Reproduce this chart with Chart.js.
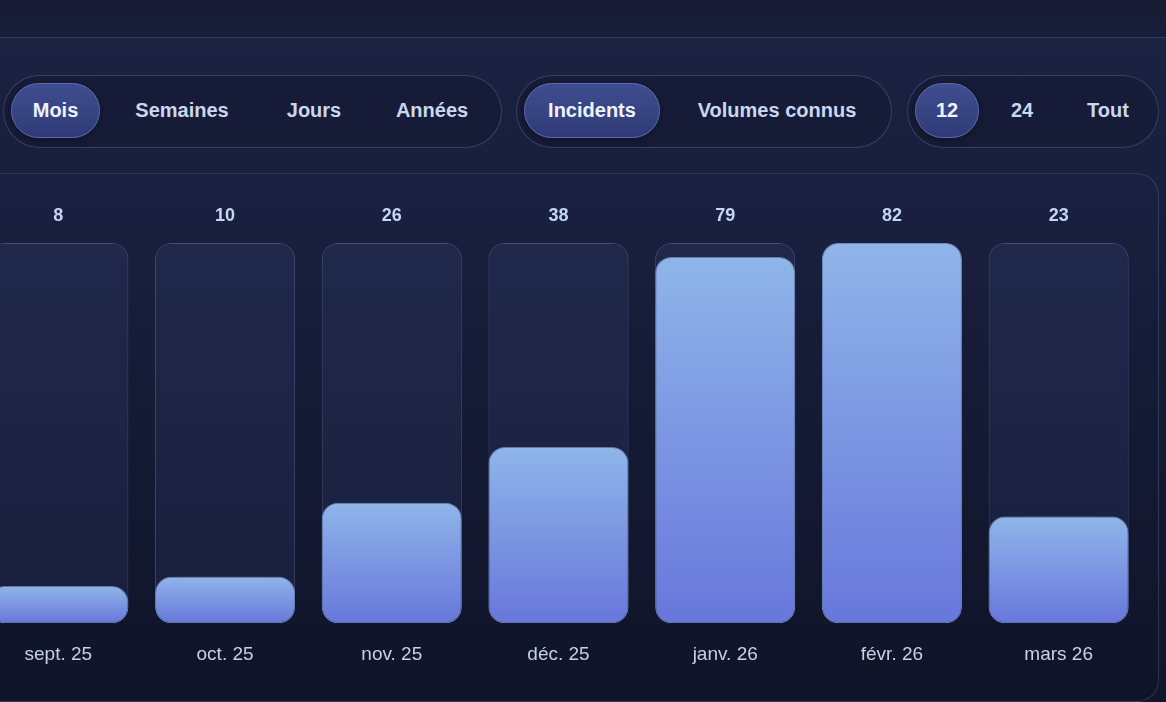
<!DOCTYPE html>
<html lang="fr">
<head>
<meta charset="utf-8">
<title>Incidents par mois</title>
<script src="https://cdn.jsdelivr.net/npm/chart.js@4/dist/chart.umd.min.js"></script>
<style>
  html, body { margin: 0; padding: 0; }
  body {
    width: 1166px; height: 702px; overflow: hidden; position: relative;
    background: #131830;
    font-family: "Liberation Sans", Arial, Helvetica, sans-serif;
  }
  .topbar { position: absolute; left: 0; top: 0; width: 1166px; height: 37px;
    background: linear-gradient(180deg, #161b33, #181e38); }
  .panel { position: absolute; left: -40px; top: 37px; width: 1300px; height: 700px;
    border-top: 1px solid #2e3960;
    background: linear-gradient(180deg, #1b2242 0%, #161c36 40%, #10152a 100%); }
  .group { position: absolute; top: 75px; height: 71px; border-radius: 37px;
    border: 1px solid rgba(120,140,200,0.32);
    background: rgba(20,26,50,0.55); }
  .pill { position: absolute; top: 7px; height: 55px; line-height: 55px;
    font-size: 20px; font-weight: bold; color: #cbd7f1; text-align: center;
    border-radius: 28px; }
  .pill.active { background: linear-gradient(180deg, #3f4e90, #2f3b77);
    border: 1px solid #5b6cb2; color: #eef2ff; line-height: 53px; height: 53px;
    box-shadow: 0 2px 8px rgba(0,0,0,0.3); }
  .card { position: absolute; left: -30px; top: 173px; width: 1187px; height: 527px;
    border: 1px solid rgba(110,130,190,0.3); border-radius: 22px;
    background: linear-gradient(180deg, #1a2040 0%, #141a33 50%, #0f1428 100%); }
  .chart-box { position: absolute; left: -25px; top: 173px; width: 1167px; height: 529px; }
</style>
</head>
<body>
<div class="topbar"></div>
<div class="panel"></div>

<div class="group" style="left:3px; width:497px;">
  <div class="pill active" style="left:7px; width:87px;">Mois</div>
  <div class="pill" style="left:113px; width:130px;">Semaines</div>
  <div class="pill" style="left:265px; width:90px;">Jours</div>
  <div class="pill" style="left:378px; width:100px;">Années</div>
</div>
<div class="group" style="left:516px; width:374px;">
  <div class="pill active" style="left:7px; width:134px;">Incidents</div>
  <div class="pill" style="left:165px; width:190px;">Volumes connus</div>
</div>
<div class="group" style="left:907px; width:250px;">
  <div class="pill active" style="left:7px; width:62px;">12</div>
  <div class="pill" style="left:89px; width:50px;">24</div>
  <div class="pill" style="left:167px; width:66px;">Tout</div>
</div>

<div class="card"></div>
<div class="chart-box"><canvas id="chart"></canvas></div>

<script>
const months = ['sept. 25', 'oct. 25', 'nov. 25', 'déc. 25', 'janv. 26', 'févr. 26', 'mars 26'];
const incidents = [8, 10, 26, 38, 79, 82, 23];
const trackValues = [82, 82, 82, 82, 82, 82, 82];
const yMax = 82;

// gradient per bar, from its top down to the baseline
function barGradient(context) {
  const chart = context.chart;
  const yScale = chart.scales.y;
  if (!chart.chartArea || !yScale) return '#7b95e2';
  const top = yScale.getPixelForValue(context.raw);
  const bottom = yScale.getPixelForValue(0);
  const g = chart.ctx.createLinearGradient(0, top, 0, bottom);
  g.addColorStop(0, '#8fb5e9');
  g.addColorStop(1, '#6877db');
  return g;
}

function trackGradient(context) {
  const chart = context.chart;
  if (!chart.chartArea) return '#1e2546';
  const a = chart.chartArea;
  const g = chart.ctx.createLinearGradient(0, a.top, 0, a.bottom);
  g.addColorStop(0, '#20284b');
  g.addColorStop(1, '#191f3c');
  return g;
}

const glowPlugin = {
  id: 'glow',
  beforeDatasetDraw(chart, args) {
    if (args.index !== 1) return;
    chart.ctx.save();
    chart.ctx.shadowColor = 'rgba(140,170,240,0.4)';
    chart.ctx.shadowBlur = 26;
    chart.ctx.shadowOffsetY = -6;
  },
  afterDatasetDraw(chart, args) {
    if (args.index !== 1) return;
    chart.ctx.restore();
  }
};

const valueLabels = {
  id: 'valueLabels',
  afterDatasetsDraw(chart) {
    const ctx = chart.ctx;
    const meta = chart.getDatasetMeta(0);
    ctx.save();
    ctx.font = 'bold 18px "Liberation Sans", Arial, sans-serif';
    ctx.fillStyle = '#c4d6f3';
    ctx.textAlign = 'center';
    ctx.textBaseline = 'middle';
    meta.data.forEach((el, i) => {
      ctx.fillText(String(incidents[i]), el.x, el.y - 27);
    });
    ctx.restore();
  }
};

new Chart(document.getElementById('chart'), {
  type: 'bar',
  data: {
    labels: months,
    datasets: [
      {
        label: 'piste',
        data: trackValues,
        backgroundColor: trackGradient,
        borderColor: 'rgba(115,135,200,0.45)',
        borderWidth: 1,
        borderRadius: 16,
        borderSkipped: false,
        order: 2
      },
      {
        label: 'Incidents',
        data: incidents,
        backgroundColor: barGradient,
        borderColor: 'rgba(160,190,245,0.45)',
        borderWidth: 1,
        borderRadius: 16,
        borderSkipped: false,
        order: 1
      }
    ]
  },
  options: {
    responsive: true,
    maintainAspectRatio: false,
    animation: false,
    datasets: { bar: { grouped: false, categoryPercentage: 1, barPercentage: 0.84 } },
    layout: { padding: { top: 70, bottom: 16, left: 0, right: 0 } },
    plugins: { legend: { display: false }, tooltip: { enabled: false } },
    scales: {
      x: {
        grid: { display: false, drawTicks: false },
        border: { display: false },
        ticks: {
          color: '#c6d1e8',
          padding: 20,
          font: { size: 19, family: '"Liberation Sans", Arial, sans-serif' }
        }
      },
      y: { display: false, min: 0, max: yMax }
    }
  },
  plugins: [glowPlugin, valueLabels]
});
</script>
</body>
</html>
